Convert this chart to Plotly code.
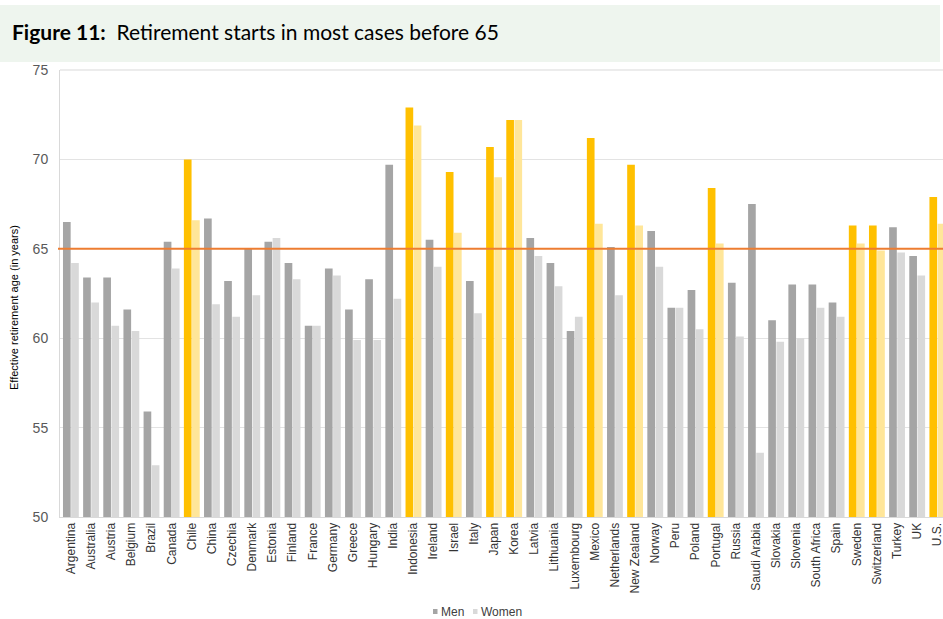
import plotly.graph_objects as go

countries = ["Argentina", "Australia", "Austria", "Belgium", "Brazil", "Canada", "Chile", "China",
             "Czechia", "Denmark", "Estonia", "Finland", "France", "Germany", "Greece", "Hungary",
             "India", "Indonesia", "Ireland", "Israel", "Italy", "Japan", "Korea", "Latvia",
             "Lithuania", "Luxembourg", "Mexico", "Netherlands", "New Zealand", "Norway", "Peru",
             "Poland", "Portugal", "Russia", "Saudi Arabia", "Slovakia", "Slovenia", "South Africa",
             "Spain", "Sweden", "Switzerland", "Turkey", "UK", "U.S."]

men = [66.5, 63.4, 63.4, 61.6, 55.9, 65.4, 70.0, 66.7,
       63.2, 65.0, 65.4, 64.2, 60.7, 63.9, 61.6, 63.3,
       69.7, 72.9, 65.5, 69.3, 63.2, 70.7, 72.2, 65.6,
       64.2, 60.4, 71.2, 65.1, 69.7, 66.0, 61.7,
       62.7, 68.4, 63.1, 67.5, 61.0, 63.0, 63.0,
       62.0, 66.3, 66.3, 66.2, 64.6, 67.9]

women = [64.2, 62.0, 60.7, 60.4, 52.9, 63.9, 66.6, 61.9,
         61.2, 62.4, 65.6, 63.3, 60.7, 63.5, 59.9, 59.9,
         62.2, 71.9, 64.0, 65.9, 61.4, 69.0, 72.2, 64.6,
         62.9, 61.2, 66.4, 62.4, 66.3, 64.0, 61.7,
         60.5, 65.3, 60.1, 53.6, 59.8, 60.0, 61.7,
         61.2, 65.3, 64.9, 64.8, 63.5, 66.4]

highlighted = ["Chile", "Indonesia", "Israel", "Japan", "Korea", "Mexico", "New Zealand",
               "Portugal", "Sweden", "Switzerland", "U.S."]

series_names = ["Men", "Women"]
y_ticks = [50, 55, 60, 65, 70, 75]
reference_age = 65

MEN_GREY, WOMEN_GREY = "#a5a5a5", "#d9d9d9"
men_colors = ["#ffc000" if c in highlighted else MEN_GREY for c in countries]
women_colors = ["#ffe699" if c in highlighted else WOMEN_GREY for c in countries]

fig = go.Figure()
fig.add_trace(go.Bar(x=countries, y=men, name=series_names[0], showlegend=False,
                     marker=dict(color=men_colors, line=dict(width=0))))
fig.add_trace(go.Bar(x=countries, y=women, name=series_names[1], showlegend=False,
                     marker=dict(color=women_colors, line=dict(width=0))))

L, T, B = 60, 70, 102
W, H = 943, 619
pw = W - L
ph = H - T - B
cat_w = 20.15
first_center = 70.9


def px_x(x):
    return (x - L) / pw


def px_y(y):
    return (T + ph - y) / ph


fig.update_layout(
    width=W, height=H,
    margin=dict(l=L, r=0, t=T, b=B, pad=0, autoexpand=False),
    paper_bgcolor="white", plot_bgcolor="white",
    barmode="group", bargap=0.19, bargroupgap=0.06,
    font=dict(family="Liberation Sans", color="#404040"),
    showlegend=False,
    xaxis=dict(type="category", range=[(L - first_center) / cat_w, (W - first_center) / cat_w],
               tickangle=-90, automargin=False,
               tickfont=dict(size=12, color="#333333"), showgrid=False,
               showline=True, linecolor="#d9d9d9", ticks=""),
    yaxis=dict(range=[50, 75], tickvals=y_ticks, tickfont=dict(size=14, color="#595959"),
               automargin=False,
               showgrid=True, gridcolor="#e3e3e3", gridwidth=1, zeroline=False,
               showline=True, linecolor="#d9d9d9", ticks="", ticklabelstandoff=8),
)

# title band
fig.add_shape(type="rect", xref="paper", yref="paper",
              x0=px_x(0), x1=px_x(940), y0=px_y(62), y1=px_y(5),
              fillcolor="#eef5ee", line=dict(width=0), layer="below")
# top border
fig.add_shape(type="line", xref="paper", yref="paper", x0=0, x1=1, y0=1, y1=1,
              line=dict(color="#d9d9d9", width=1))
# 65 reference line
fig.add_shape(type="line", xref="paper", yref="y", x0=px_x(58), x1=1, y0=reference_age, y1=reference_age,
              line=dict(color="#ed7d31", width=2))

fig.add_annotation(xref="paper", yref="paper", x=px_x(10), y=px_y(31),
                   xanchor="left", yanchor="middle", showarrow=False,
                   text="<b>Figure 11:</b>  Retirement starts in most cases before 65",
                   font=dict(family="Lato", size=21, color="#000000"))
fig.add_annotation(xref="paper", yref="paper", x=px_x(14), y=px_y(308),
                   xanchor="center", yanchor="middle", showarrow=False, textangle=-90,
                   text="Effective retirement age (in years)",
                   font=dict(family="Liberation Sans", size=11, color="#000000"))

# custom compact legend
legend_items = [(series_names[0], MEN_GREY, 433), (series_names[1], WOMEN_GREY, 473)]
for name, col, x0 in legend_items:
    fig.add_shape(type="rect", xref="paper", yref="paper",
                  x0=px_x(x0), x1=px_x(x0 + 4.5), y0=px_y(614), y1=px_y(609),
                  fillcolor=col, line=dict(width=0))
    fig.add_annotation(xref="paper", yref="paper", x=px_x(x0 + 6), y=px_y(612),
                       xanchor="left", yanchor="middle", showarrow=False, text=name,
                       font=dict(family="Liberation Sans", size=12, color="#404040"))

fig.write_html("out.html",
               config={"displayModeBar": False},
               post_script="document.body.style.margin='0';document.body.style.padding='0';"
                           "document.documentElement.style.overflow='hidden';")
